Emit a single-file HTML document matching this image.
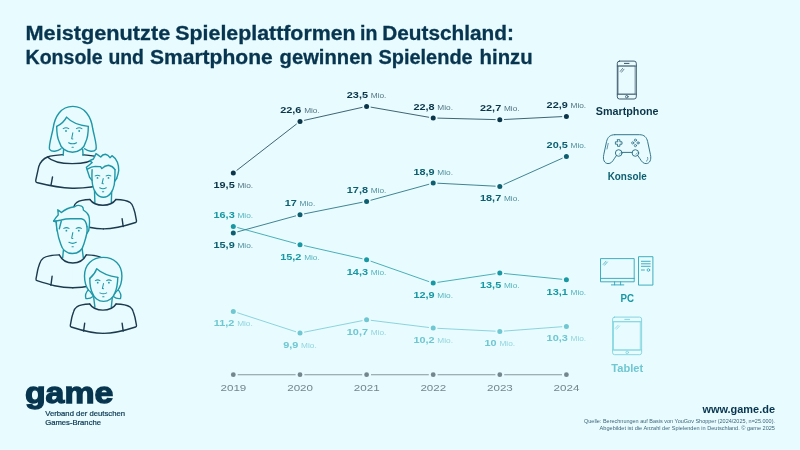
<!DOCTYPE html>
<html lang="de"><head><meta charset="utf-8"><title>Meistgenutzte Spieleplattformen in Deutschland</title>
<style>
html,body{margin:0;padding:0;background:#e8fbff;}
body{width:800px;height:450px;overflow:hidden;font-family:"Liberation Sans",sans-serif;}
svg{display:block;}
text{font-family:"Liberation Sans",sans-serif;}
.t{font-weight:bold;font-size:20px;fill:#07354f;stroke:#07354f;stroke-width:0.3px;}
.num{font-weight:bold;font-size:9.6px;}
.mio{font-weight:normal;font-size:7.3px;opacity:.72;}
.yr{font-size:9.7px;fill:#74868d;text-anchor:middle;}
.dev{font-weight:bold;font-size:10px;text-anchor:middle;}
.src{font-size:5.3px;fill:#07354f;text-anchor:end;opacity:.8;}
</style></head><body>
<svg width="800" height="450" viewBox="0 0 800 450">
<rect width="800" height="450" fill="#e8fbff"/>
<text class="t" y="40.2"><tspan x="25.5" textLength="144.7" lengthAdjust="spacingAndGlyphs">Meistgenutzte</tspan> <tspan x="175.3" textLength="180.3" lengthAdjust="spacingAndGlyphs">Spieleplattformen</tspan> <tspan x="360.0" textLength="17.4" lengthAdjust="spacingAndGlyphs">in</tspan> <tspan x="382.3" textLength="131.6" lengthAdjust="spacingAndGlyphs">Deutschland:</tspan></text>
<text class="t" y="63.8"><tspan x="25.5" textLength="77.2" lengthAdjust="spacingAndGlyphs">Konsole</tspan> <tspan x="108.4" textLength="35.5" lengthAdjust="spacingAndGlyphs">und</tspan> <tspan x="150.0" textLength="122.7" lengthAdjust="spacingAndGlyphs">Smartphone</tspan> <tspan x="279.6" textLength="93.1" lengthAdjust="spacingAndGlyphs">gewinnen</tspan> <tspan x="378.4" textLength="94.3" lengthAdjust="spacingAndGlyphs">Spielende</tspan> <tspan x="479.6" textLength="53.1" lengthAdjust="spacingAndGlyphs">hinzu</tspan></text>
<g id="people" fill="none" stroke-linecap="round" stroke-linejoin="round">
<g id="p1">
<path fill="#e8fbff" stroke="#1c3a4e" stroke-width="1.40" d="M63,154.6 C56,155 50,156 47.5,157 C43.5,158.6 40.4,162 38.8,166.4 L35.8,180 Q35.3,182.2 37.6,182.7 C50,185.8 60,187.8 72.2,188.2 C84.4,188.4 95,187.2 106.8,183.4 Q109.1,182.2 108.6,180 L105.6,166.4 C104,162 100.9,158.6 96.9,157 C94.4,156 88.4,155 81.4,154.6 Z"/>
<path stroke="#1c3a4e" stroke-width="1.40" d="M47.5,157 C52,161.5 62,163.6 72.2,163.6 C82.4,163.6 92.4,161.5 96.9,157"/>
<path stroke="#1c3a4e" stroke-width="1.40" d="M52.5,177 L51,185.2"/>
<path fill="#e8fbff" stroke="none" d="M63,148 L63,158 L82.4,158 L82.4,148 Z"/>
<path stroke="#1e98a8" stroke-width="1.40" d="M63.7,148 L63.2,155.4 M82.6,148 L83.1,155.4"/>
<path fill="#e8fbff" stroke="#1e98a8" stroke-width="1.40" d="M61,148.8 C57.5,151.6 51.8,152.4 49.6,149.4 C48.4,146 51.4,137 53,129 C54.6,116.5 61,106.4 72.8,106.4 C84.6,106.4 91.2,116.5 92.8,129 C94.4,137 97.2,146 96,149.4 C93.8,152.4 88.1,151.6 84.6,148.8"/>
<path fill="#e8fbff" stroke="#1e98a8" stroke-width="1.40" d="M56.7,126.4 C56.7,133 57.4,138 59.3,142 C60.8,148.2 66,152.2 72.5,152.2 C79,152.2 84.2,148.2 85.7,142 C87.6,138 88.3,133 88.3,126.4"/>
<path stroke="#1e98a8" stroke-width="1.40" d="M56.7,126.4 C60.4,124.6 64.6,121 66.6,117.1 C71,122 80,125.4 88.3,126.4"/>
<g stroke="#1e98a8" stroke-width="1.05">
<circle cx="66.0" cy="131.0" r="0.9" fill="#1e98a8" stroke="none"/>
<circle cx="79.2" cy="131.0" r="0.9" fill="#1e98a8" stroke="none"/>
<path d="M63.2,128.6 Q66.0,126.9 68.8,128.6"/>
<path d="M76.4,128.6 Q79.2,126.9 81.9,128.6"/>
<path d="M72.8,132.8 L71.7,138.7 l1.2,0.2"/>
<path d="M68.6,142.7 Q72.6,144.9 76.6,142.7"/>
<path d="M72.0,147.3 h1.3"/>
</g>
</g>
<g id="p2">
<path fill="#e8fbff" stroke="none" d="M89.9,199.5 C83.9,199.7 79.9,200.3 76.9,202.3 C75.1,203.6 74.1,205.5 73.5,207.4 C72.7,209.7 72.2,211.3 71.8,213.0 L70.3,220.9 Q70.1,222.2 71.2,222.5 C82.3,226.1 91.4,228.9 103.4,228.9 L102.9,199.5 Z"/>
<path fill="#e8fbff" stroke="none" d="M115.9,199.5 C121.9,199.7 126.9,200.3 129.9,202.3 C131.7,203.6 132.7,205.5 133.3,207.4 C134.1,209.7 134.6,211.3 135.0,213.0 L136.5,220.9 Q136.7,222.2 135.6,222.5 C124.5,226.1 115.4,228.9 103.4,228.9 L102.9,199.5 Z"/>
<path stroke="#1c3a4e" stroke-width="1.40" d="M89.9,199.5 C83.9,199.7 79.9,200.3 76.9,202.3 C75.1,203.6 74.1,205.5 73.5,207.4 C72.7,209.7 72.2,211.3 71.8,213.0 L70.3,220.9 Q70.1,222.2 71.2,222.5 C82.3,226.1 91.4,228.9 103.4,228.9"/>
<path stroke="#1c3a4e" stroke-width="1.40" d="M115.9,199.5 C121.9,199.7 126.9,200.3 129.9,202.3 C131.7,203.6 132.7,205.5 133.3,207.4 C134.1,209.7 134.6,211.3 135.0,213.0 L136.5,220.9 Q136.7,222.2 135.6,222.5 C124.5,226.1 115.4,228.9 103.4,228.9"/>
<path stroke="#1c3a4e" stroke-width="1.40" d="M122.1,218.6 L123.2,226.6"/>
<path fill="#e8fbff" stroke="none" d="M94.5,191.0 L94.9,202.6 L111.3,202.6 L111.7,191.0 Z"/>
<path stroke="#1e98a8" stroke-width="1.40" d="M94.5,191.0 L94.9,202.6 M111.7,191.0 L111.3,202.6"/>
<path stroke="#1c3a4e" stroke-width="1.40" d="M89.9,199.5 C95.1,207.1 110.7,207.1 115.9,199.5"/>
<path fill="#e8fbff" stroke="#1e98a8" stroke-width="1.40" d="M89.6,177.4 C88.6,174 87.4,171 86.4,167.2 C88.4,165.8 90.4,164.2 92.2,162.6 L89.6,160.6 C91,160.2 92.2,159.6 93.4,159 C94.4,157.2 95.2,155.4 96,153.6 C97.6,154.6 99.2,155.8 100.7,157 C102,155.2 103.6,154.4 105.4,154.3 C107.2,154.6 108.8,155.8 110,157.7 C110.6,157 111.3,156.4 112,155.7 C114.6,157.4 116.4,159.6 117.4,162.3 C118.4,165 118.8,167.6 118.7,170.3 C118.4,173 117.6,175.8 116.7,178.3"/>
<path fill="#e8fbff" stroke="#1e98a8" stroke-width="1.40" d="M92.1,169.6 C91.8,175 91.9,181 92.6,185 C93.7,191.2 97.6,197.3 103.4,197.3 C109.2,197.3 113.1,191.2 114.2,185 C114.9,181 115,175 115,169.6"/>
<path stroke="#1e98a8" stroke-width="1.40" d="M87.4,169.2 C90,167.4 92.6,166.4 95.2,166.4 L100.6,166.6 L101.8,168.6 C103.6,166.6 106,165.4 108.6,165.2 C111.6,165.8 113.6,167.4 115,169.6"/>
<path stroke="#1e98a8" stroke-width="1.40" d="M89.6,177.4 L92,180.4 M116.7,178.3 L114.9,181"/>
<g stroke="#1e98a8" stroke-width="1.05">
<circle cx="97.5" cy="177.9" r="0.9" fill="#1e98a8" stroke="none"/>
<circle cx="108.5" cy="177.9" r="0.9" fill="#1e98a8" stroke="none"/>
<path d="M95.2,175.9 Q97.5,174.5 99.8,175.9"/>
<path d="M106.2,175.9 Q108.5,174.5 110.8,175.9"/>
<path d="M103.2,178.6 L102.1,183.6 l1.2,0.2"/>
<path d="M99.7,187.8 Q103.0,189.7 106.3,187.8"/>
<path d="M102.4,191.7 h1.3"/>
</g>
</g>
<g id="p3">
<path fill="#e8fbff" stroke="none" d="M59.3,254.9 C52.6,255.1 46.8,255.8 43.4,258.0 C41.4,259.5 40.3,261.6 39.6,263.7 C38.7,266.3 38.1,268.1 37.7,270.0 L36.0,278.9 Q35.8,280.3 37.0,280.7 C49.4,284.7 59.4,287.8 72.8,287.8 L72.8,254.9 Z"/>
<path fill="#e8fbff" stroke="none" d="M86.3,254.9 C93.0,255.1 98.8,255.8 102.2,258.0 C104.2,259.5 105.3,261.6 106.0,263.7 C106.9,266.3 107.5,268.1 107.9,270.0 L109.6,278.9 Q109.8,280.3 108.6,280.7 C96.2,284.7 86.2,287.8 72.8,287.8 L72.8,254.9 Z"/>
<path stroke="#1c3a4e" stroke-width="1.40" d="M59.3,254.9 C52.6,255.1 46.8,255.8 43.4,258.0 C41.4,259.5 40.3,261.6 39.6,263.7 C38.7,266.3 38.1,268.1 37.7,270.0 L36.0,278.9 Q35.8,280.3 37.0,280.7 C49.4,284.7 59.4,287.8 72.8,287.8"/>
<path stroke="#1c3a4e" stroke-width="1.40" d="M86.3,254.9 C93.0,255.1 98.8,255.8 102.2,258.0 C104.2,259.5 105.3,261.6 106.0,263.7 C106.9,266.3 107.5,268.1 107.9,270.0 L109.6,278.9 Q109.8,280.3 108.6,280.7 C96.2,284.7 86.2,287.8 72.8,287.8"/>
<path stroke="#1c3a4e" stroke-width="1.40" d="M52.1,276.3 L50.9,285.3"/>
<path fill="#e8fbff" stroke="none" d="M63.8,246.0 L62.7,257.6 L83.3,257.6 L81.8,246.0 Z"/>
<path stroke="#1e98a8" stroke-width="1.40" d="M63.8,246.0 L62.7,257.6 M81.8,246.0 L83.3,257.6"/>
<path stroke="#1c3a4e" stroke-width="1.40" d="M59.3,254.9 C64.7,265.7 80.9,265.7 86.3,254.9"/>
<path fill="#e8fbff" stroke="#1e98a8" stroke-width="1.40" d="M57.3,231 C56.8,228 56.4,225 56.3,222 L53.6,221 C55,218.6 56.6,216.6 58.2,215 C58.2,213 58,211.4 57.8,209.8 C59.2,210.6 60.4,211.6 61.4,212.6 C64.6,209.6 69.6,207.4 74.7,206.7 C76.4,205.4 78.4,205.2 80,205.6 C81.8,206 83,207 83.2,208.4 C83.4,209 83.4,209.6 83.3,210 C86,211.6 88,213.6 88.8,216 C89.8,219 89.8,224 88.7,230.7 L86.9,233.3"/>
<path fill="#e8fbff" stroke="#1e98a8" stroke-width="1.40" d="M56.3,222 C56.4,226 56.8,229 57.3,231 C58,236 59.4,240.6 60.7,244 C62.2,249.8 66.8,253.5 72.4,253.5 C78,253.5 82.4,249.8 83.9,244 C85,240.6 86.3,236 86.9,233 C87.2,231 87.2,229 87,226.7"/>
<path stroke="#1e98a8" stroke-width="1.40" d="M53.6,221 C56.4,221.2 59,220.6 61.3,220 C64.6,219 67.6,218.7 70.7,218.7 L81.3,218.7 C83.4,219 84.6,220 85.3,221.3 C86.2,223 86.8,225 87,226.7"/>
<path stroke="#1e98a8" stroke-width="1.40" d="M61.3,221 L59.3,228.7"/>
<g stroke="#1e98a8" stroke-width="1.05">
<circle cx="66.4" cy="230.7" r="0.9" fill="#1e98a8" stroke="none"/>
<circle cx="78.8" cy="230.7" r="0.9" fill="#1e98a8" stroke="none"/>
<path d="M63.8,228.4 Q66.4,226.9 69.0,228.4"/>
<path d="M76.2,228.4 Q78.8,226.9 81.4,228.4"/>
<path d="M72.8,232.6 L71.7,238.2 l1.2,0.2"/>
<path d="M68.9,242.3 Q72.6,244.4 76.3,242.3"/>
<path d="M72.0,246.7 h1.3"/>
</g>
</g>
<g id="p4">
<path fill="#e8fbff" stroke="none" d="M89.7,304.0 C83.7,304.2 79.9,304.8 76.9,306.8 C75.1,308.1 74.1,310.0 73.5,311.9 C72.7,314.2 72.2,315.8 71.8,317.5 L70.3,325.4 Q70.1,326.7 71.2,327.0 C82.3,330.6 91.4,333.4 103.4,333.4 L102.9,304.0 Z"/>
<path fill="#e8fbff" stroke="none" d="M116.1,304.0 C122.1,304.2 126.9,304.8 129.9,306.8 C131.7,308.1 132.7,310.0 133.3,311.9 C134.1,314.2 134.6,315.8 135.0,317.5 L136.5,325.4 Q136.7,326.7 135.6,327.0 C124.5,330.6 115.4,333.4 103.4,333.4 L102.9,304.0 Z"/>
<path stroke="#1c3a4e" stroke-width="1.40" d="M89.7,304.0 C83.7,304.2 79.9,304.8 76.9,306.8 C75.1,308.1 74.1,310.0 73.5,311.9 C72.7,314.2 72.2,315.8 71.8,317.5 L70.3,325.4 Q70.1,326.7 71.2,327.0 C82.3,330.6 91.4,333.4 103.4,333.4"/>
<path stroke="#1c3a4e" stroke-width="1.40" d="M116.1,304.0 C122.1,304.2 126.9,304.8 129.9,306.8 C131.7,308.1 132.7,310.0 133.3,311.9 C134.1,314.2 134.6,315.8 135.0,317.5 L136.5,325.4 Q136.7,326.7 135.6,327.0 C124.5,330.6 115.4,333.4 103.4,333.4"/>
<path stroke="#1c3a4e" stroke-width="1.40" d="M84.7,323.1 L83.6,331.1"/>
<path stroke="#1c3a4e" stroke-width="1.40" d="M122.1,323.1 L123.2,331.1"/>
<path fill="#e8fbff" stroke="none" d="M93.7,297.6 L94.9,307.0 L111.3,307.0 L112.3,297.6 Z"/>
<path stroke="#1e98a8" stroke-width="1.40" d="M93.7,297.6 L94.9,307.0 M112.3,297.6 L111.3,307.0"/>
<path stroke="#1c3a4e" stroke-width="1.40" d="M89.7,304.0 C95.0,312.2 110.8,312.2 116.1,304.0"/>
<path fill="#e8fbff" stroke="#1e98a8" stroke-width="1.40" d="M88.6,289.4 C86.2,292 85,296 85.9,298.5 C88.6,299 91.4,297.8 93.4,296.2 Z"/>
<path fill="#e8fbff" stroke="#1e98a8" stroke-width="1.40" d="M117.8,289.4 C120.2,292 121.4,296 120.5,298.5 C117.8,299 115,297.8 113,296.2 Z"/>
<path fill="#e8fbff" stroke="#1e98a8" stroke-width="1.40" d="M88.8,290.6 C85.8,286.6 84.5,281 84.5,276 C84.5,265 92,257.4 103.2,257.4 C114.4,257.4 121.9,265 121.9,276 C121.9,281 120.6,286.6 117.6,290.6"/>
<path fill="#e8fbff" stroke="#1e98a8" stroke-width="1.40" d="M89.8,278.4 C89.8,284 90.4,289 92.4,293 C93.9,297.8 98.4,301.4 103.6,301.4 C108.8,301.4 113.3,297.8 114.8,293 C116.8,289 117.6,284 117.8,277.4"/>
<path stroke="#1e98a8" stroke-width="1.40" d="M89.8,278.4 C93,275.6 95.6,272 96.7,268.7 C101,272.6 109,276 117.8,277.4"/>
<g stroke="#1e98a8" stroke-width="1.05">
<circle cx="97.7" cy="282.7" r="0.9" fill="#1e98a8" stroke="none"/>
<circle cx="108.9" cy="282.7" r="0.9" fill="#1e98a8" stroke="none"/>
<path d="M95.3,280.6 Q97.7,279.2 100.0,280.6"/>
<path d="M106.6,280.6 Q108.9,279.2 111.3,280.6"/>
<path d="M103.5,283.5 L102.4,288.5 l1.2,0.2"/>
<path d="M99.9,292.9 Q103.3,294.7 106.7,292.9"/>
<path d="M102.7,296.8 h1.3"/>
</g>
</g>
</g>
<g id="chart">
<line x1="237.7" y1="374.7" x2="295.6" y2="374.7" stroke="#74868d" stroke-width="1.1" opacity="0.85"/>
<line x1="304.4" y1="374.7" x2="362.2" y2="374.7" stroke="#74868d" stroke-width="1.1" opacity="0.85"/>
<line x1="371.0" y1="374.7" x2="428.8" y2="374.7" stroke="#74868d" stroke-width="1.1" opacity="0.85"/>
<line x1="437.6" y1="374.7" x2="495.4" y2="374.7" stroke="#74868d" stroke-width="1.1" opacity="0.85"/>
<line x1="504.2" y1="374.7" x2="562.0" y2="374.7" stroke="#74868d" stroke-width="1.1" opacity="0.85"/>
<circle cx="233.3" cy="374.7" r="2.4" fill="#74868d"/>
<text class="yr" x="233.4" y="391.3" textLength="25.8" lengthAdjust="spacingAndGlyphs">2019</text>
<circle cx="300.0" cy="374.7" r="2.4" fill="#74868d"/>
<text class="yr" x="300.1" y="391.3" textLength="25.8" lengthAdjust="spacingAndGlyphs">2020</text>
<circle cx="366.6" cy="374.7" r="2.4" fill="#74868d"/>
<text class="yr" x="366.7" y="391.3" textLength="25.8" lengthAdjust="spacingAndGlyphs">2021</text>
<circle cx="433.2" cy="374.7" r="2.4" fill="#74868d"/>
<text class="yr" x="433.3" y="391.3" textLength="25.8" lengthAdjust="spacingAndGlyphs">2022</text>
<circle cx="499.8" cy="374.7" r="2.4" fill="#74868d"/>
<text class="yr" x="499.9" y="391.3" textLength="25.8" lengthAdjust="spacingAndGlyphs">2023</text>
<circle cx="566.4" cy="374.7" r="2.4" fill="#74868d"/>
<text class="yr" x="566.5" y="391.3" textLength="25.8" lengthAdjust="spacingAndGlyphs">2024</text>
<line x1="236.6" y1="170.5" x2="296.7" y2="123.9" stroke="#0b3548" stroke-width="0.85" opacity="0.9"/>
<line x1="304.1" y1="120.4" x2="362.5" y2="107.3" stroke="#0b3548" stroke-width="0.85" opacity="0.9"/>
<line x1="370.7" y1="107.1" x2="429.1" y2="117.3" stroke="#0b3548" stroke-width="0.85" opacity="0.9"/>
<line x1="437.4" y1="118.1" x2="495.6" y2="119.6" stroke="#0b3548" stroke-width="0.85" opacity="0.9"/>
<line x1="504.0" y1="119.5" x2="562.2" y2="116.6" stroke="#0b3548" stroke-width="0.85" opacity="0.9"/>
<circle cx="233.3" cy="173.0" r="2.5" fill="#0b3548"/>
<circle cx="300.0" cy="121.4" r="2.5" fill="#0b3548"/>
<circle cx="366.6" cy="106.4" r="2.5" fill="#0b3548"/>
<circle cx="433.2" cy="118.0" r="2.5" fill="#0b3548"/>
<circle cx="499.8" cy="119.7" r="2.5" fill="#0b3548"/>
<circle cx="566.4" cy="116.4" r="2.5" fill="#0b3548"/>
<g transform="translate(233.3,187.9) scale(1.135,1)"><text x="0" y="0" text-anchor="middle" fill="#0b3548"><tspan class="num">19,5</tspan><tspan class="mio" dx="0.4"> Mio.</tspan></text></g>
<g transform="translate(300.0,112.9) scale(1.135,1)"><text x="0" y="0" text-anchor="middle" fill="#0b3548"><tspan class="num">22,6</tspan><tspan class="mio" dx="0.4"> Mio.</tspan></text></g>
<g transform="translate(366.6,97.9) scale(1.135,1)"><text x="0" y="0" text-anchor="middle" fill="#0b3548"><tspan class="num">23,5</tspan><tspan class="mio" dx="0.4"> Mio.</tspan></text></g>
<g transform="translate(433.2,109.5) scale(1.135,1)"><text x="0" y="0" text-anchor="middle" fill="#0b3548"><tspan class="num">22,8</tspan><tspan class="mio" dx="0.4"> Mio.</tspan></text></g>
<g transform="translate(499.8,111.2) scale(1.135,1)"><text x="0" y="0" text-anchor="middle" fill="#0b3548"><tspan class="num">22,7</tspan><tspan class="mio" dx="0.4"> Mio.</tspan></text></g>
<g transform="translate(566.4,107.9) scale(1.135,1)"><text x="0" y="0" text-anchor="middle" fill="#0b3548"><tspan class="num">22,9</tspan><tspan class="mio" dx="0.4"> Mio.</tspan></text></g>
<line x1="237.3" y1="231.9" x2="296.0" y2="215.8" stroke="#0d5f70" stroke-width="0.85" opacity="0.9"/>
<line x1="304.1" y1="213.9" x2="362.5" y2="202.2" stroke="#0d5f70" stroke-width="0.85" opacity="0.9"/>
<line x1="370.6" y1="200.3" x2="429.2" y2="184.2" stroke="#0d5f70" stroke-width="0.85" opacity="0.9"/>
<line x1="437.4" y1="183.2" x2="495.6" y2="186.2" stroke="#0d5f70" stroke-width="0.85" opacity="0.9"/>
<line x1="503.6" y1="184.6" x2="562.6" y2="158.1" stroke="#0d5f70" stroke-width="0.85" opacity="0.9"/>
<circle cx="233.3" cy="233.0" r="2.5" fill="#0d5f70"/>
<circle cx="300.0" cy="214.7" r="2.5" fill="#0d5f70"/>
<circle cx="366.6" cy="201.4" r="2.5" fill="#0d5f70"/>
<circle cx="433.2" cy="183.0" r="2.5" fill="#0d5f70"/>
<circle cx="499.8" cy="186.4" r="2.5" fill="#0d5f70"/>
<circle cx="566.4" cy="156.4" r="2.5" fill="#0d5f70"/>
<g transform="translate(233.3,247.9) scale(1.135,1)"><text x="0" y="0" text-anchor="middle" fill="#0d5f70"><tspan class="num">15,9</tspan><tspan class="mio" dx="0.4"> Mio.</tspan></text></g>
<g transform="translate(300.0,206.2) scale(1.135,1)"><text x="0" y="0" text-anchor="middle" fill="#0d5f70"><tspan class="num">17</tspan><tspan class="mio" dx="0.4"> Mio.</tspan></text></g>
<g transform="translate(366.6,192.9) scale(1.135,1)"><text x="0" y="0" text-anchor="middle" fill="#0d5f70"><tspan class="num">17,8</tspan><tspan class="mio" dx="0.4"> Mio.</tspan></text></g>
<g transform="translate(433.2,174.5) scale(1.135,1)"><text x="0" y="0" text-anchor="middle" fill="#0d5f70"><tspan class="num">18,9</tspan><tspan class="mio" dx="0.4"> Mio.</tspan></text></g>
<g transform="translate(499.8,201.3) scale(1.135,1)"><text x="0" y="0" text-anchor="middle" fill="#0d5f70"><tspan class="num">18,7</tspan><tspan class="mio" dx="0.4"> Mio.</tspan></text></g>
<g transform="translate(566.4,147.9) scale(1.135,1)"><text x="0" y="0" text-anchor="middle" fill="#0d5f70"><tspan class="num">20,5</tspan><tspan class="mio" dx="0.4"> Mio.</tspan></text></g>
<line x1="237.3" y1="227.5" x2="296.0" y2="243.6" stroke="#1898a3" stroke-width="0.85" opacity="0.9"/>
<line x1="304.1" y1="245.6" x2="362.5" y2="258.8" stroke="#1898a3" stroke-width="0.85" opacity="0.9"/>
<line x1="370.6" y1="261.1" x2="429.2" y2="281.7" stroke="#1898a3" stroke-width="0.85" opacity="0.9"/>
<line x1="437.4" y1="282.4" x2="495.6" y2="273.7" stroke="#1898a3" stroke-width="0.85" opacity="0.9"/>
<line x1="504.0" y1="273.5" x2="562.2" y2="279.3" stroke="#1898a3" stroke-width="0.85" opacity="0.9"/>
<circle cx="233.3" cy="226.4" r="2.5" fill="#1898a3"/>
<circle cx="300.0" cy="244.7" r="2.5" fill="#1898a3"/>
<circle cx="366.6" cy="259.7" r="2.5" fill="#1898a3"/>
<circle cx="433.2" cy="283.1" r="2.5" fill="#1898a3"/>
<circle cx="499.8" cy="273.1" r="2.5" fill="#1898a3"/>
<circle cx="566.4" cy="279.7" r="2.5" fill="#1898a3"/>
<g transform="translate(233.3,217.9) scale(1.135,1)"><text x="0" y="0" text-anchor="middle" fill="#1898a3"><tspan class="num">16,3</tspan><tspan class="mio" dx="0.4"> Mio.</tspan></text></g>
<g transform="translate(300.0,259.6) scale(1.135,1)"><text x="0" y="0" text-anchor="middle" fill="#1898a3"><tspan class="num">15,2</tspan><tspan class="mio" dx="0.4"> Mio.</tspan></text></g>
<g transform="translate(366.6,274.6) scale(1.135,1)"><text x="0" y="0" text-anchor="middle" fill="#1898a3"><tspan class="num">14,3</tspan><tspan class="mio" dx="0.4"> Mio.</tspan></text></g>
<g transform="translate(433.2,298.0) scale(1.135,1)"><text x="0" y="0" text-anchor="middle" fill="#1898a3"><tspan class="num">12,9</tspan><tspan class="mio" dx="0.4"> Mio.</tspan></text></g>
<g transform="translate(499.8,288.0) scale(1.135,1)"><text x="0" y="0" text-anchor="middle" fill="#1898a3"><tspan class="num">13,5</tspan><tspan class="mio" dx="0.4"> Mio.</tspan></text></g>
<g transform="translate(566.4,294.6) scale(1.135,1)"><text x="0" y="0" text-anchor="middle" fill="#1898a3"><tspan class="num">13,1</tspan><tspan class="mio" dx="0.4"> Mio.</tspan></text></g>
<line x1="237.3" y1="312.7" x2="296.0" y2="331.8" stroke="#6fc7d1" stroke-width="0.85" opacity="0.9"/>
<line x1="304.1" y1="332.2" x2="362.5" y2="320.6" stroke="#6fc7d1" stroke-width="0.85" opacity="0.9"/>
<line x1="370.8" y1="320.3" x2="429.0" y2="327.5" stroke="#6fc7d1" stroke-width="0.85" opacity="0.9"/>
<line x1="437.4" y1="328.3" x2="495.6" y2="331.2" stroke="#6fc7d1" stroke-width="0.85" opacity="0.9"/>
<line x1="504.0" y1="331.1" x2="562.2" y2="326.7" stroke="#6fc7d1" stroke-width="0.85" opacity="0.9"/>
<circle cx="233.3" cy="311.4" r="2.5" fill="#6fc7d1"/>
<circle cx="300.0" cy="333.1" r="2.5" fill="#6fc7d1"/>
<circle cx="366.6" cy="319.7" r="2.5" fill="#6fc7d1"/>
<circle cx="433.2" cy="328.1" r="2.5" fill="#6fc7d1"/>
<circle cx="499.8" cy="331.4" r="2.5" fill="#6fc7d1"/>
<circle cx="566.4" cy="326.4" r="2.5" fill="#6fc7d1"/>
<g transform="translate(233.3,326.3) scale(1.135,1)"><text x="0" y="0" text-anchor="middle" fill="#6fc7d1"><tspan class="num">11,2</tspan><tspan class="mio" dx="0.4"> Mio.</tspan></text></g>
<g transform="translate(300.0,348.0) scale(1.135,1)"><text x="0" y="0" text-anchor="middle" fill="#6fc7d1"><tspan class="num">9,9</tspan><tspan class="mio" dx="0.4"> Mio.</tspan></text></g>
<g transform="translate(366.6,334.6) scale(1.135,1)"><text x="0" y="0" text-anchor="middle" fill="#6fc7d1"><tspan class="num">10,7</tspan><tspan class="mio" dx="0.4"> Mio.</tspan></text></g>
<g transform="translate(433.2,343.0) scale(1.135,1)"><text x="0" y="0" text-anchor="middle" fill="#6fc7d1"><tspan class="num">10,2</tspan><tspan class="mio" dx="0.4"> Mio.</tspan></text></g>
<g transform="translate(499.8,346.3) scale(1.135,1)"><text x="0" y="0" text-anchor="middle" fill="#6fc7d1"><tspan class="num">10</tspan><tspan class="mio" dx="0.4"> Mio.</tspan></text></g>
<g transform="translate(566.4,341.3) scale(1.135,1)"><text x="0" y="0" text-anchor="middle" fill="#6fc7d1"><tspan class="num">10,3</tspan><tspan class="mio" dx="0.4"> Mio.</tspan></text></g>
</g>
<text class="dev" x="627.2" y="115.3" fill="#0b3548" textLength="62.7" lengthAdjust="spacingAndGlyphs">Smartphone</text>
<text class="dev" x="627.2" y="179.8" fill="#0d5f70" textLength="39" lengthAdjust="spacingAndGlyphs">Konsole</text>
<text class="dev" x="627.2" y="301.6" fill="#1898a3" textLength="13.5" lengthAdjust="spacingAndGlyphs">PC</text>
<text class="dev" x="627.2" y="371.8" fill="#6fc7d1" textLength="31.8" lengthAdjust="spacingAndGlyphs">Tablet</text>
<g id="icons" fill="none" stroke-linecap="round" stroke-linejoin="round" stroke-width="1">
<g stroke="#345264">
<rect x="617.3" y="61.1" width="19" height="37.9" rx="2.2" stroke-width="0.95"/>
<rect x="618.5" y="66" width="16.6" height="28.2" stroke-width="0.6"/>
<path d="M617.3,66 H636.3 M617.3,94.2 H636.3" stroke-width="0.8"/>
<path d="M624.4,63.4 H629" />
<circle cx="626.8" cy="96.7" r="1.3" stroke-width="0.8"/>
<path d="M620.2,71.4 L622.6,68.4 M621.6,72.2 L624,69.2" stroke-width="0.7"/>
</g>
<g stroke="#2b6f86" stroke-width="0.95">
<path d="M614.8,134.7 H639.4 C644.4,134.7 646.6,137.4 647.6,141.4 L650.4,154.4 C651.6,159.8 649.8,163.4 646.2,163.6 C643.4,163.7 641.6,161.6 640,158.8 L637.8,155.6 M616.4,155.6 L614.2,158.8 C612.6,161.6 610.8,163.7 608,163.6 C604.4,163.4 602.6,159.8 603.8,154.4 L606.6,141.4 C607.6,137.4 609.8,134.7 614.8,134.7"/>
<circle cx="618.7" cy="153" r="3.3"/>
<circle cx="635.4" cy="153" r="3.3"/>
<path d="M622,152.4 H632.1"/>
<path d="M617.5,139.7 h2.4 v2.1 h2.1 v2.4 h-2.1 v2.1 h-2.4 v-2.1 h-2.1 v-2.4 h2.1 z" stroke-width="0.9"/>
<circle cx="635.4" cy="140.2" r="1.1" stroke-width="0.8"/><circle cx="635.4" cy="145.6" r="1.1" stroke-width="0.8"/><circle cx="632.7" cy="142.9" r="1.1" stroke-width="0.8"/><circle cx="638.1" cy="142.9" r="1.1" stroke-width="0.8"/>
<path d="M608.2,143.4 L607,149 M647.6,157.4 C648.2,159.2 647.6,160.6 646.4,161.2" stroke-width="0.7"/>
<path d="M619,154.4 l1.4,-1.3 M635.8,154.4 l1.4,-1.3" stroke-width="0.6"/>
</g>
<g stroke="#2ba6b8" stroke-width="0.9">
<rect x="600.9" y="258.6" width="33.3" height="23.2"/>
<path d="M600.9,278.4 H634.2"/>
<path d="M614.6,281.8 V284.8 M620.6,281.8 V284.8 M611.4,284.9 H623.8"/>
<path d="M603.2,264.4 L606,261.2 M604.6,265.2 L607.4,262" stroke-width="0.7"/>
<rect x="638.9" y="256.7" width="14" height="28.4"/>
<path d="M641.4,261.3 H650.2 M641.4,263.8 H650.2 M641.4,266.3 H650.2 M641.4,270 H644.4"/>
<circle cx="648.4" cy="270" r="1.3" stroke-width="0.8"/>
</g>
<g stroke="#7cd3de" stroke-width="0.9">
<rect x="612.6" y="317.1" width="29" height="37.6" rx="2"/>
<rect x="613.9" y="321.7" width="26.4" height="28.3" stroke-width="0.8"/>
<path d="M612.6,321.7 H641.6 M612.6,350 H641.6" stroke-width="0.8"/>
<path d="M624.8,319.4 H629.6"/>
<circle cx="627.2" cy="352.4" r="1.3" stroke-width="0.8"/>
<path d="M615.2,328.4 L618.2,325.2 M616.6,329.2 L619.6,326" stroke-width="0.7"/>
</g>
</g>
<text x="775" y="412.7" text-anchor="end" font-weight="bold" font-size="10.3" fill="#07354f" textLength="72.6" lengthAdjust="spacingAndGlyphs">www.game.de</text>
<text class="src" x="775" y="422.7" textLength="191" lengthAdjust="spacingAndGlyphs">Quelle: Berechnungen auf Basis von YouGov Shopper (2024/2025, n=25.000).</text>
<text class="src" x="775" y="429.6" textLength="175.4" lengthAdjust="spacingAndGlyphs">Abgebildet ist die Anzahl der Spielenden in Deutschland. © game 2025</text>
<text x="24.9" y="403.4" font-weight="bold" font-size="30.4" fill="#07354f" stroke="#07354f" stroke-width="1.3" textLength="88.4" lengthAdjust="spacingAndGlyphs">game</text>
<text x="45.2" y="416.2" font-size="7.7" fill="#07354f" stroke="#07354f" stroke-width="0.2" textLength="79.8" lengthAdjust="spacing">Verband der deutschen</text>
<text x="45.2" y="424.5" font-size="7.7" fill="#07354f" stroke="#07354f" stroke-width="0.2" textLength="55.8" lengthAdjust="spacing">Games-Branche</text>
</svg></body></html>
